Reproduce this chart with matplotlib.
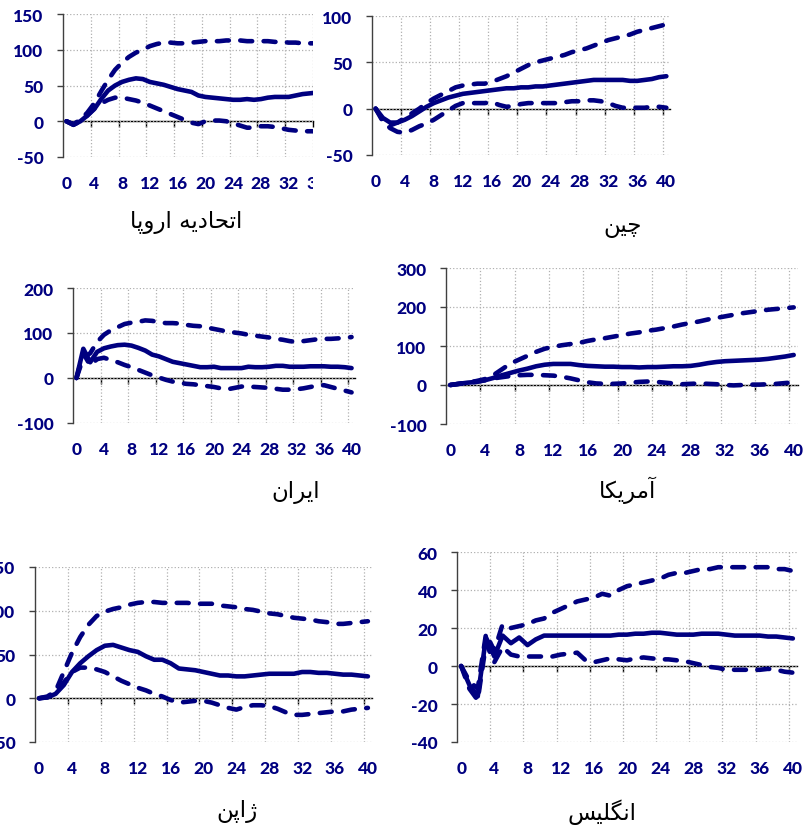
import matplotlib.pyplot as plt
from matplotlib.transforms import Bbox, TransformedBbox, ScaledTranslation

# impulse responses: point estimate (mid) with upper / lower bands
periods = list(range(41))

# EU panel is cut off at period 36 in the source figure
eu_mid = [0, -5, 0, 8, 17, 31, 43, 50, 55, 58, 60, 59, 55, 53, 51, 48, 45, 43, 41, 36,
          34, 33, 32, 31, 30, 30, 31, 30, 31, 33, 34, 34, 34, 36, 38, 39, 40]
eu_upper = [0, -4, 2, 12, 25, 42, 58, 72, 82, 90, 96, 100, 105, 108, 110, 110, 109, 109, 110, 111,
            112, 112, 112, 113, 113, 113, 112, 112, 112, 112, 111, 111, 110, 110, 109, 109, 109]
eu_lower = [0, -5, 0, 8, 18, 25, 30, 33, 33, 31, 29, 26, 22, 18, 14, 10, 6, 2, -2, -4,
            0, 1, 1, 0, -3, -6, -9, -9, -7, -7, -8, -10, -12, -13, -14, -14, -14]

cn_mid = [0, -10, -15, -15, -12, -8, -3, 2, 6, 9, 12, 14, 16, 17, 18, 19, 20, 21, 22, 22,
          23, 23, 24, 24, 25, 26, 27, 28, 29, 30, 31, 31, 31, 31, 31, 30, 30, 31, 32, 34, 35]
cn_upper = [0, -12, -18, -15, -10, -5, 0, 6, 11, 15, 19, 23, 25, 26, 27, 27, 29, 32, 35, 39,
            43, 47, 50, 52, 54, 56, 58, 61, 63, 65, 68, 71, 74, 76, 78, 80, 83, 85, 87, 89, 91]
cn_lower = [0, -14, -21, -25, -26, -23, -19, -16, -12, -7, -2, 3, 6, 6, 6, 6, 7, 4, 2, 3,
            5, 6, 6, 6, 6, 6, 7, 8, 8, 9, 9, 8, 6, 3, 1, 1, 1, 1, 2, 2, 1]

ir_mid = [0, 65, 35, 58, 66, 70, 73, 74, 72, 67, 61, 52, 48, 42, 36, 33, 30, 27, 24, 24,
          25, 22, 22, 22, 22, 25, 24, 24, 25, 27, 27, 25, 25, 25, 26, 26, 26, 25, 25, 24, 22]
ir_upper = [0, 45, 55, 80, 96, 106, 113, 120, 123, 125, 128, 127, 124, 122, 122, 121, 118, 116, 115, 112,
            109, 106, 103, 101, 99, 96, 94, 92, 90, 87, 85, 82, 80, 82, 84, 86, 87, 87, 88, 89, 91]
ir_lower = [0, 55, 28, 42, 45, 40, 35, 29, 24, 18, 12, 6, 1, -4, -8, -11, -13, -14, -16, -18,
            -20, -23, -25, -22, -19, -19, -20, -21, -22, -24, -26, -26, -25, -23, -20, -17, -16, -20, -24, -28, -32]

us_mid = [0, 3, 6, 8, 12, 18, 25, 31, 37, 42, 48, 52, 54, 54, 54, 51, 49, 48, 47, 47,
          46, 46, 45, 46, 46, 47, 48, 48, 49, 52, 56, 59, 61, 62, 63, 64, 65, 67, 70, 73, 77]
us_upper = [0, 3, 6, 10, 15, 25, 40, 55, 65, 75, 85, 93, 98, 102, 105, 108, 113, 117, 120, 124,
            128, 132, 135, 139, 142, 146, 150, 155, 159, 163, 168, 172, 176, 180, 184, 187, 190, 193, 195, 197, 199]
us_lower = [0, 3, 6, 8, 12, 17, 20, 23, 25, 26, 26, 25, 24, 21, 17, 12, 7, 4, 3, 3,
            4, 6, 8, 9, 8, 6, 4, 2, 3, 4, 3, 2, 0, -1, 0, 1, 1, 2, 3, 5, 7]

jp_mid = [0, 1, 5, 15, 30, 40, 48, 55, 60, 61, 58, 55, 53, 48, 44, 44, 40, 34, 33, 32,
          30, 28, 26, 26, 25, 25, 26, 27, 28, 28, 28, 28, 30, 30, 29, 29, 28, 27, 27, 26, 25]
jp_upper = [0, 2, 8, 30, 52, 70, 84, 94, 99, 102, 104, 107, 109, 110, 110, 109, 109, 109, 109, 108,
            108, 108, 106, 105, 104, 102, 101, 99, 97, 96, 94, 92, 91, 90, 88, 87, 85, 85, 86, 87, 88]
jp_lower = [0, 1, 5, 18, 30, 35, 35, 33, 30, 25, 20, 16, 12, 9, 5, 2, -2, -5, -4, -3,
            -3, -5, -8, -11, -13, -10, -8, -8, -9, -12, -16, -19, -19, -18, -17, -16, -15, -15, -13, -12, -11]

uk_mid = [0, -10, -16, 15, 5, 16, 12, 15, 11, 14, 16, 16, 16, 16, 16, 16, 16, 16, 16, 16.5,
          16.5, 17, 17, 17.5, 17.5, 17, 16.5, 16.5, 16.5, 17, 17, 17, 16.5, 16, 16, 16, 16, 15.5, 15.5, 15, 14.5]
uk_upper = [0, -8, -12, 17, 8, 22, 20, 21, 22, 24, 25, 28, 30, 32, 34, 35, 36, 38, 37, 40,
            42, 43, 44, 45, 46, 48, 49, 49, 50, 51, 51, 52, 52, 52, 52, 52, 52, 52, 51, 51, 50]
uk_lower = [0, -12, -18, 12, 2, 10, 6, 5, 5, 5, 5, 5, 6, 6.5, 7, 3, 2, 3, 4, 3.5,
            3, 4, 4.5, 4, 3.5, 3.5, 3, 2.5, 1.5, 0.5, -0.5, -1, -2, -2, -2, -2, -2, -1.5, -2, -3, -3.5]

titles = ['اتحادیه اروپا', 'چین', 'ایران', 'آمریکا', 'ژاپن', 'انگلیس']

NAVY = '#000080'

# matplotlib has no Arabic shaping, so pick presentation forms by hand
# (isolated, final, initial, medial); None = letter does not join forward
FORMS = {
    'ا': ('\uFE8D', '\uFE8E', None, None),
    'آ': ('\uFE81', '\uFE82', None, None),
    'د': ('\uFEA9', '\uFEAA', None, None),
    'ر': ('\uFEAD', '\uFEAE', None, None),
    'و': ('\uFEED', '\uFEEE', None, None),
    'ژ': ('\uFB8A', '\uFB8B', None, None),
    'ت': ('\uFE95', '\uFE96', '\uFE97', '\uFE98'),
    'ح': ('\uFEA1', '\uFEA2', '\uFEA3', '\uFEA4'),
    'ه': ('\uFEE9', '\uFEEA', '\uFEEB', '\uFEEC'),
    'ی': ('\uFBFC', '\uFBFD', '\uFBFE', '\uFBFF'),
    'پ': ('\uFB56', '\uFB57', '\uFB58', '\uFB59'),
    'چ': ('\uFB7A', '\uFB7B', '\uFB7C', '\uFB7D'),
    'ن': ('\uFEE5', '\uFEE6', '\uFEE7', '\uFEE8'),
    'م': ('\uFEE1', '\uFEE2', '\uFEE3', '\uFEE4'),
    'ک': ('\uFB8E', '\uFB8F', '\uFB90', '\uFB91'),
    'گ': ('\uFB92', '\uFB93', '\uFB94', '\uFB95'),
    'ل': ('\uFEDD', '\uFEDE', '\uFEDF', '\uFEE0'),
    'س': ('\uFEB1', '\uFEB2', '\uFEB3', '\uFEB4'),
}


def shape_fa(text):
    out = []
    for i, ch in enumerate(text):
        f = FORMS.get(ch)
        if f is None:
            out.append(ch)
            continue
        prev = text[i - 1] if i > 0 else ''
        nxt = text[i + 1] if i + 1 < len(text) else ''
        join_prev = prev in FORMS and FORMS[prev][2] is not None
        join_next = f[2] is not None and nxt in FORMS
        if join_prev and join_next:
            out.append(f[3])
        elif join_prev:
            out.append(f[1])
        elif join_next:
            out.append(f[2])
        else:
            out.append(f[0])
    return ''.join(reversed(out))


W, H = 806, 829
fig = plt.figure(figsize=(W / 100, H / 100), dpi=100)

tick_font = dict(family='Lato', weight='black', size=12.5)


def add_panel(box, mid, upper, lower, ylim, ystep, xmax=40.5):
    left, top, right, bottom = box
    ax = fig.add_axes([left / W, 1 - bottom / H, (right - left) / W, (bottom - top) / H])
    x = periods[:len(mid)]
    dash = dict(color=NAVY, lw=3.3, ls=(0, (2.6, 2.5)), dash_capstyle='round')
    ax.plot(x, upper, **dash)
    ax.plot(x, lower, **dash)
    ax.plot(x, mid, color=NAVY, lw=3.3, solid_capstyle='round', solid_joinstyle='round')

    ax.set_xlim(-0.5, xmax)
    ax.set_ylim(*ylim)
    yt = list(range(ylim[0], ylim[1] + 1, ystep))
    ax.set_yticks(yt)
    ax.set_yticklabels([str(v) for v in yt], fontdict=tick_font, color=NAVY)
    xt = [v for v in range(0, 41, 4) if v <= xmax]
    ax.set_xticks(xt)
    ax.set_xticklabels([str(v) for v in xt], fontdict=tick_font, color=NAVY)
    grid_x = [v + 3.5 for v in range(0, 40, 4) if v + 3.5 <= xmax]
    ax.set_xticks(grid_x, minor=True)

    ax.grid(True, which='major', axis='y', color='#b0b0b0', ls=':', lw=0.9)
    ax.grid(True, which='minor', axis='x', color='#b0b0b0', ls=':', lw=0.9)
    ax.tick_params(axis='x', which='both', length=0, pad=13)
    ax.tick_params(axis='y', length=4.5, width=1, color='#404040', pad=9.5, direction='out')
    for s in ['top', 'right', 'bottom']:
        ax.spines[s].set_visible(False)
    ax.spines['left'].set_color('#404040')
    ax.spines['left'].set_linewidth(1)

    # zero line with small ticks at the grid positions
    zfrac = (0 - ylim[0]) / (ylim[1] - ylim[0])
    zero = ax.secondary_xaxis(zfrac)
    zero.set_xticks(grid_x)
    zero.tick_params(axis='x', length=4, width=1, color='black', direction='out',
                     labelbottom=False, labeltop=False)
    for s in zero.spines.values():
        s.set_color('black')
        s.set_linewidth(1)
    return ax


ax1 = add_panel((63, 15, 313, 158), eu_mid, eu_upper, eu_lower, (-50, 150), 50, xmax=35.5)
add_panel((372, 17, 670, 156), cn_mid, cn_upper, cn_lower, (-50, 100), 50)
add_panel((73, 289, 355, 424), ir_mid, ir_upper, ir_lower, (-100, 200), 100)
add_panel((446, 269, 798, 425), us_mid, us_upper, us_lower, (-100, 300), 100)
add_panel((35, 568, 372, 743), jp_mid, jp_upper, jp_lower, (-50, 150), 50)
add_panel((457, 553, 797, 743), uk_mid, uk_upper, uk_lower, (-40, 60), 20)

# the EU panel's "36" label is cut by the panel edge in the original
pos = ax1.get_position()
lab = ax1.text(36, 0, '36', fontdict=tick_font, color=NAVY, ha='center', va='top',
               transform=ax1.get_xaxis_transform() + ScaledTranslation(0, -13 / 72, fig.dpi_scale_trans))
lab.set_clip_path(None)
lab.set_clip_box(TransformedBbox(Bbox([[pos.x0, 0], [pos.x1, 1]]), fig.transFigure))
lab.set_clip_on(True)

# panel titles under each chart
title_pos = [(186, 222), (623, 227), (296, 493), (628, 490), (237, 812), (602, 812)]
for (tx, ty), t in zip(title_pos, titles):
    fig.text(tx / W, 1 - ty / H, shape_fa(t), ha='center', va='center',
             family='DejaVu Sans', fontsize=16.5, color='black')

fig.savefig('out.png', dpi=100)
